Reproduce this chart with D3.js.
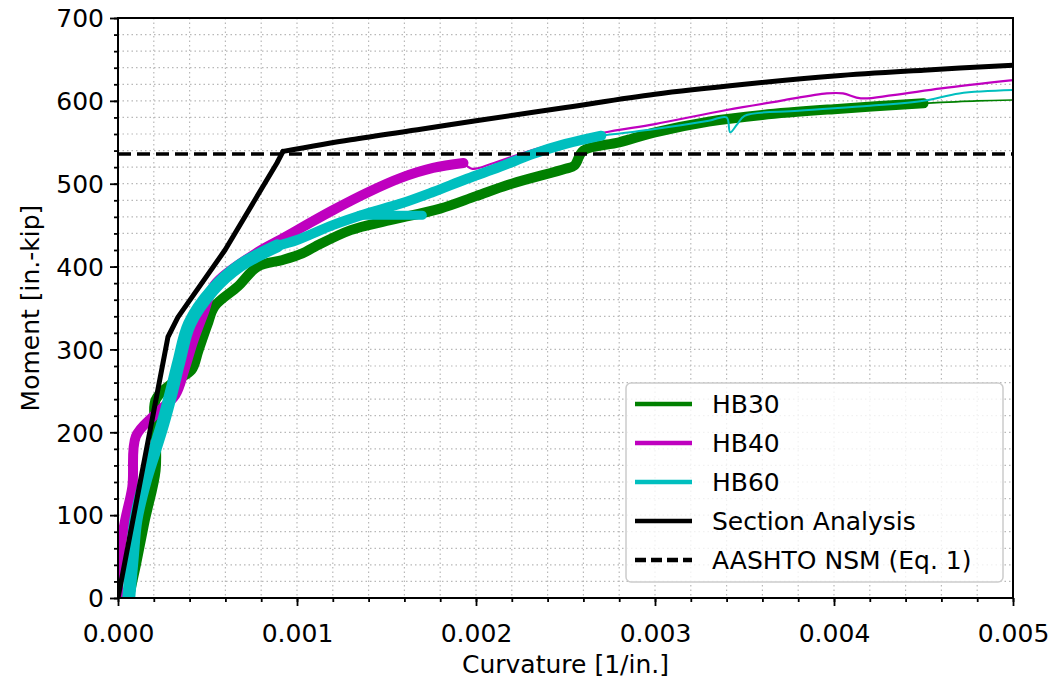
<!DOCTYPE html>
<html>
<head>
<meta charset="utf-8">
<script src="https://cdn.jsdelivr.net/npm/d3@7"></script>
<style>
  body { margin: 0; background: #fff; }
  svg text { font-family: "DejaVu Sans", sans-serif; fill: #000; }
</style>
</head>
<body>
<div id="chart-area"></div>
<script>
// values: [curvature 1/in., moment in.-kip]
var hb30Thick = [[0.00006,0],[0.00010,40],[0.00015,94],[0.00021,154],[0.00021,200],[0.00021,239],[0.00032,262],
	[0.00041,275],[0.00045,299],[0.00050,330],[0.00054,352],[0.00067,376],[0.00078,400],[0.00092,408],[0.00103,416],
	[0.0011,424],[0.0013,444],[0.0015,455],[0.0018,470],[0.0020,485],[0.0022,500],[0.0025,518],[0.00255,522],[0.0026,540],
	[0.0028,550],[0.0030,562],[0.0033,575],[0.0036,583],[0.0040,590],[0.0045,597]];
var hb30Thin = [[0.0045,597],[0.0048,600],[0.005,601]];

var hb40Thick = [[0.0,0],[0.00001,54],[0.00004,94],[0.00008,134],[0.0001,195],[0.0002,220],[0.00032,245],
	[0.00037,275],[0.00042,310],[0.00048,345],[0.00054,378],[0.00077,416],[0.00092,434],[0.00105,450],
	[0.0012,468],[0.0014,490],[0.00158,507],[0.00176,519],[0.00193,525]];
var hb40Thin = [[0.00193,525],[0.00198,518],[0.0021,525],[0.00232,541],[0.0027,561],[0.0030,572],[0.0034,589],
	[0.0037,600],[0.00396,609],[0.00405,609],[0.00415,603],[0.00433,607],[0.0046,615],[0.005,625]];

var hb60Low = [[0.00006,0],[0.00008,50],[0.0001,94],[0.00015,140],[0.0002,175],[0.00025,210],[0.0003,250],
	[0.00034,285],[0.0004,331],[0.00053,372],[0.00068,401],[0.00089,425]];
var hb60Thick = [[0.00089,425],[0.001,432],[0.0012,450],[0.00139,464],
	[0.00158,476],[0.00176,490],[0.00195,506],[0.00213,520],[0.00232,536],[0.0025,548],[0.0027,558]];
var hb60Tail = [[0.00135,462],[0.0017,462]];
var hb60Thin = [[0.0027,558],[0.003,566],[0.0033,576],[0.0034,580],[0.00342,562],[0.00346,572],[0.0035,582],
	[0.0038,588],[0.0042,594],[0.0045,600],[0.0047,609],[0.005,613]];

var sectionAnalysis = [[0,0],[0.000279,315],[0.000335,339],[0.000598,420],[0.000888,525],[0.000922,539],
	[0.0013,553],[0.0017,566],[0.002,576],[0.0025,592],[0.003,608],[0.0035,620],[0.004,630],[0.0045,637],[0.005,643]];
var aashtoMoment = 536;

var xTicks = [0, 0.001, 0.002, 0.003, 0.004, 0.005];
var yTicks = [0, 100, 200, 300, 400, 500, 600, 700];
var legendNames = ['HB30', 'HB40', 'HB60', 'Section Analysis', 'AASHTO NSM (Eq. 1)'];

var width = 1057;
var height = 681;
var margin = { top: 18, right: 44, bottom: 83, left: 118 };
var plotW = width - margin.left - margin.right;
var plotH = height - margin.top - margin.bottom;

var svg = d3.select('#chart-area')
	.append('svg')
	.attr('width', width)
	.attr('height', height);

var g = svg.append('g')
	.attr('transform', 'translate(' + margin.left + ',' + margin.top + ')');

var x = d3.scaleLinear().domain([0, 0.005]).range([0, plotW]);
var y = d3.scaleLinear().domain([0, 700]).range([plotH, 0]);

// grid, major + minor
var xMinor = d3.range(0, 0.0050001, 0.0002);
var yMinor = d3.range(0, 701, 20);
g.append('g').selectAll('line').data(xMinor).enter().append('line')
	.attr('x1', d => x(d)).attr('x2', d => x(d))
	.attr('y1', 0).attr('y2', plotH)
	.attr('stroke', '#b8b8b8').attr('stroke-width', 1.2).attr('stroke-dasharray', '1.5,3');
g.append('g').selectAll('line').data(yMinor).enter().append('line')
	.attr('x1', 0).attr('x2', plotW)
	.attr('y1', d => y(d)).attr('y2', d => y(d))
	.attr('stroke', '#b8b8b8').attr('stroke-width', 1.2).attr('stroke-dasharray', '1.5,3');

var line = d3.line().x(d => x(d[0])).y(d => y(d[1]));
var smooth = d3.line().curve(d3.curveCatmullRom.alpha(0.5)).x(d => x(d[0])).y(d => y(d[1]));

g.append('clipPath').attr('id', 'clip').append('rect')
	.attr('width', plotW).attr('height', plotH);
var plot = g.append('g').attr('clip-path', 'url(#clip)');

function drawSeries(data, color, w, gen) {
	plot.append('path')
		.datum(data)
		.attr('d', gen || smooth)
		.attr('fill', 'none')
		.attr('stroke', color)
		.attr('stroke-width', w)
		.attr('stroke-linejoin', 'round')
		.attr('stroke-linecap', 'round');
}

drawSeries(hb30Thick, '#008000', 10);
drawSeries(hb30Thin, '#008000', 1.6);
drawSeries(hb40Thick, '#bf00bf', 10);
drawSeries(hb40Thin, '#bf00bf', 2.2);
drawSeries(hb60Low, '#00bfbf', 13);
drawSeries(hb60Thick, '#00bfbf', 10);
drawSeries(hb60Tail, '#00bfbf', 9);
drawSeries(hb60Thin, '#00bfbf', 2);
drawSeries(sectionAnalysis.slice(0, 6), '#000', 5, line);
drawSeries(sectionAnalysis.slice(5), '#000', 5);

plot.append('line')
	.attr('x1', 0).attr('x2', plotW)
	.attr('y1', y(aashtoMoment)).attr('y2', y(aashtoMoment))
	.attr('stroke', '#000').attr('stroke-width', 3.5)
	.attr('stroke-dasharray', '13,6');

// axes
var xAxis = d3.axisBottom(x).tickValues(xTicks).tickFormat(d3.format('.3f')).tickSize(8).tickPadding(18);
var yAxis = d3.axisLeft(y).tickValues(yTicks).tickSize(8).tickPadding(6);

var gx = g.append('g').attr('transform', 'translate(0,' + plotH + ')').call(xAxis);
var gy = g.append('g').call(yAxis);

g.append('g').attr('transform', 'translate(0,' + plotH + ')')
	.call(d3.axisBottom(x).tickValues(xMinor).tickSize(4).tickFormat(''));
g.append('g')
	.call(d3.axisLeft(y).tickValues(yMinor).tickSize(4).tickFormat(''));

svg.selectAll('.domain').remove();
svg.selectAll('.tick line').attr('stroke', '#000').attr('stroke-width', 1.8);
gx.selectAll('text').attr('font-size', 25);
gy.selectAll('text').attr('font-size', 25).attr('dy', '0.35em');

g.append('rect')
	.attr('width', plotW).attr('height', plotH)
	.attr('fill', 'none').attr('stroke', '#000').attr('stroke-width', 2);

svg.append('text')
	.attr('x', margin.left + plotW / 2).attr('y', 673)
	.attr('text-anchor', 'middle').attr('font-size', 25)
	.text('Curvature [1/in.]');
svg.append('text')
	.attr('transform', 'translate(39,' + (margin.top + plotH / 2) + ') rotate(-90)')
	.attr('text-anchor', 'middle').attr('font-size', 25)
	.text('Moment [in.-kip]');

// legend
var legend = g.append('g').attr('transform', 'translate(' + (626 - margin.left) + ',' + (383 - margin.top) + ')');
legend.append('rect')
	.attr('width', 377).attr('height', 199).attr('rx', 5)
	.attr('fill', 'rgba(255,255,255,0.8)').attr('stroke', '#cccccc').attr('stroke-width', 1.5);

var legendStyle = [
	{ color: '#008000', dash: null },
	{ color: '#bf00bf', dash: null },
	{ color: '#00bfbf', dash: null },
	{ color: '#000', dash: null },
	{ color: '#000', dash: '11,5' }
];
legendNames.forEach(function(name, i) {
	var ly = 21 + i * 39;
	legend.append('line')
		.attr('x1', 9).attr('x2', 66).attr('y1', ly).attr('y2', ly)
		.attr('stroke', legendStyle[i].color).attr('stroke-width', 4.5)
		.attr('stroke-dasharray', legendStyle[i].dash);
	legend.append('text')
		.attr('x', 86).attr('y', ly).attr('dy', '0.35em')
		.attr('font-size', 25)
		.text(name);
});
</script>
</body>
</html>
